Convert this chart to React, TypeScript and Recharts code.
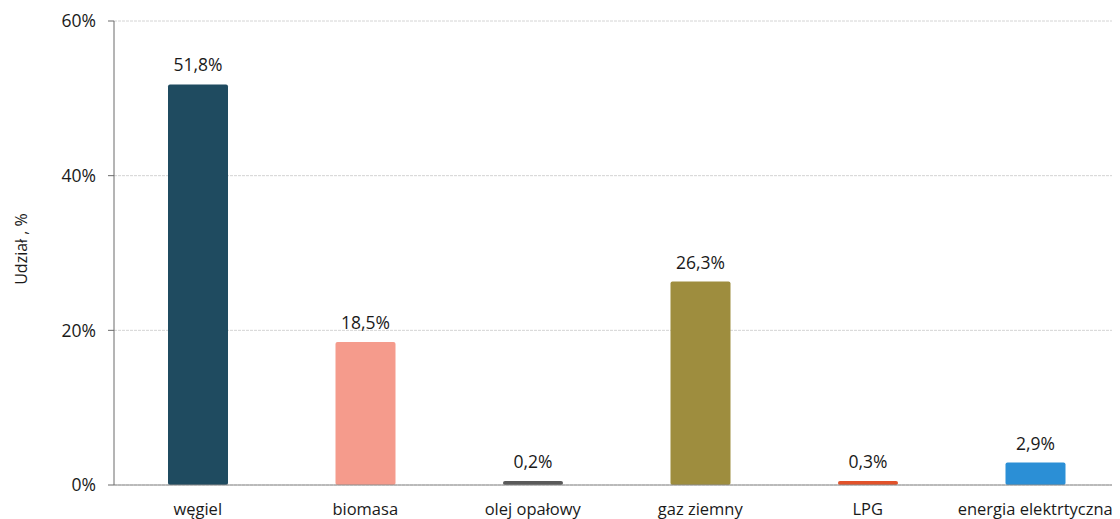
import React from "react";
import { BarChart, Bar, XAxis, YAxis, CartesianGrid, LabelList, Cell } from "recharts";

const categories = ["węgiel", "biomasa", "olej opałowy", "gaz ziemny", "LPG", "energia elektrtyczna"];
const shares = [51.8, 18.5, 0.2, 26.3, 0.3, 2.9];
const colors = ["#1f4b60", "#f59b8c", "#5a5a5a", "#9e8d3e", "#e2522a", "#2b8fd6"];
const yTicks = [0, 20, 40, 60];
const boundaryTicks = [0, 1, 2, 3, 4, 5, 6];
const yAxisTitle = "Udział , %";

const data = categories.map((c, i) => ({ name: c, value: shares[i], idx: i + 0.5 }));

const font = "'Open Sans', 'Liberation Sans', sans-serif";

const YTitle = () => (
  <text
    transform="translate(19,241) rotate(-90)"
    textAnchor="middle"
    fill="#1a1a1a"
    fontSize={16}
    fontFamily={font}
  >
    {yAxisTitle}
  </text>
);

export default function App() {
  return (
    <div style={{ width: 1112, height: 511, background: "#fff" }}>
      <BarChart
        width={1112}
        height={511}
        data={data}
        margin={{ top: 13, right: 1, left: 0, bottom: 0 }}
        style={{ fontFamily: font, overflow: "visible" }}
      >
        <CartesianGrid vertical={false} stroke="#d4d4d4" strokeDasharray="3 1" />
        <XAxis
          dataKey="name"
          xAxisId="cat"
          height={34}
          axisLine={{ stroke: "#8a8a8a" }}
          tickLine={false}
          tickSize={0}
          tickMargin={18}
          interval={0}
          tick={{ fill: "#1a1a1a", fontSize: 16.5, fontFamily: font }}
        />
        <XAxis
          xAxisId="bounds"
          type="number"
          dataKey="idx"
          domain={[0, 6]}
          ticks={boundaryTicks}
          height={0}
          axisLine={false}
          tick={false}
          tickLine={{ stroke: "#8a8a8a" }}
          tickSize={6}
        />
        <YAxis
          width={106}
          domain={[0, 60]}
          ticks={yTicks}
          tickFormatter={(v: number) => `${v}%`}
          axisLine={{ stroke: "#6a6a6a" }}
          tickLine={{ stroke: "#6a6a6a" }}
          tickSize={6}
          tickMargin={12}
          tick={{ fill: "#1a1a1a", fontSize: 17.5, fontFamily: font }}
          label={{ content: () => <YTitle /> }}
        />
        <Bar dataKey="value" xAxisId="cat" barSize={60} minPointSize={4} radius={2} isAnimationActive={false}>
          {data.map((d, i) => (
            <Cell key={d.name} fill={colors[i]} />
          ))}
          <LabelList
            dataKey="value"
            position="top"
            offset={13}
            formatter={(v: number) => `${v.toFixed(1).replace(".", ",")}%`}
            style={{ fill: "#1a1a1a", fontSize: 17.5, fontFamily: font }}
          />
        </Bar>
      </BarChart>
    </div>
  );
}
